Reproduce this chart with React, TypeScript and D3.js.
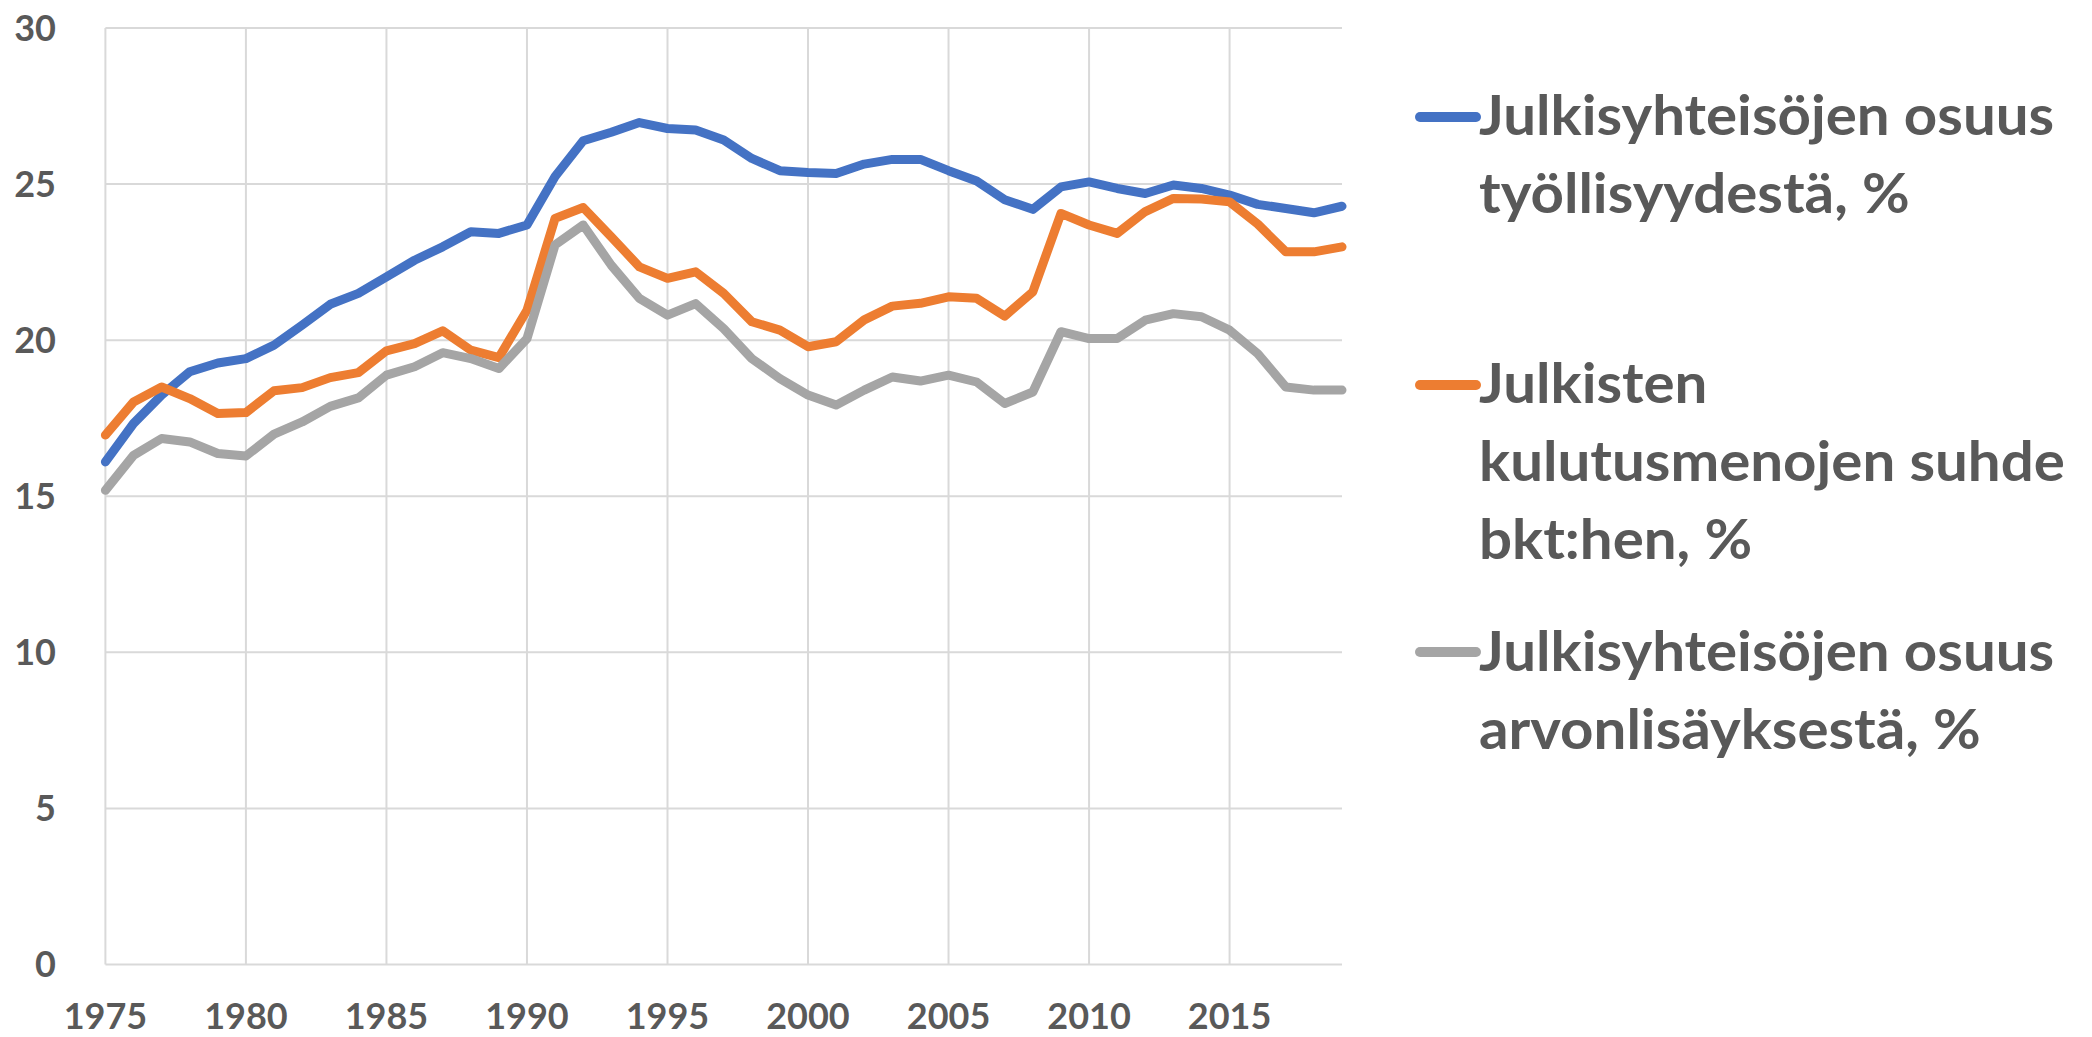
import React from "react";
import * as d3 from "d3";

const years: number[] = d3.range(1975, 2020);

const employmentShare: number[] = [
  16.1, 17.33, 18.24, 18.99, 19.27, 19.41, 19.84, 20.48, 21.15, 21.5,
  22.03, 22.56, 22.99, 23.47, 23.42, 23.69, 25.24, 26.39, 26.66, 26.97,
  26.78, 26.73, 26.41, 25.82, 25.43, 25.37, 25.34, 25.64, 25.79, 25.79,
  25.43, 25.1, 24.5, 24.19, 24.91, 25.07, 24.86, 24.7, 24.97, 24.86,
  24.65, 24.35, 24.22, 24.08, 24.29,
];

const consumptionToGdp: number[] = [
  16.96, 18.02, 18.5, 18.13, 17.65, 17.68, 18.38, 18.48, 18.8, 18.96,
  19.66, 19.89, 20.3, 19.68, 19.44, 20.96, 23.9, 24.25, 23.31, 22.35,
  21.98, 22.19, 21.5, 20.59, 20.32, 19.79, 19.95, 20.65, 21.09, 21.18,
  21.39, 21.34, 20.77, 21.55, 24.06, 23.69, 23.42, 24.12, 24.54, 24.52,
  24.43, 23.72, 22.83, 22.83, 22.99,
];

const valueAddedShare: number[] = [
  15.19, 16.31, 16.85, 16.74, 16.37, 16.29, 16.99, 17.38, 17.88, 18.15,
  18.88, 19.15, 19.6, 19.41, 19.09, 20.05, 23.05, 23.69, 22.4, 21.34,
  20.8, 21.17, 20.37, 19.41, 18.77, 18.24, 17.92, 18.4, 18.82, 18.69,
  18.88, 18.66, 17.97, 18.34, 20.27, 20.05, 20.05, 20.64, 20.85, 20.75,
  20.32, 19.57, 18.5, 18.4, 18.4,
];

const yTicks: number[] = [0, 5, 10, 15, 20, 25, 30];
const xTicks: number[] = [1975, 1980, 1985, 1990, 1995, 2000, 2005, 2010, 2015];

const seriesNames: string[][] = [
  ["Julkisyhteisöjen osuus", "työllisyydestä, %"],
  ["Julkisten", "kulutusmenojen suhde", "bkt:hen, %"],
  ["Julkisyhteisöjen osuus", "arvonlisäyksestä, %"],
];
const seriesColors: string[] = ["#4472C4", "#ED7D31", "#A5A5A5"];

const W = 2092;
const H = 1037;
const FONT = "Lato, 'Open Sans', sans-serif";
const TEXT = "#595959";
const GRID = "#D9D9D9";

export default function App() {
  const x = d3.scaleLinear().domain([1975, 2019]).range([105.4, 1342]);
  const y = d3.scaleLinear().domain([0, 30]).range([964.5, 28]);

  const allSeries = [employmentShare, consumptionToGdp, valueAddedShare];
  const line = d3
    .line<number>()
    .x((_, i) => x(years[i]))
    .y((d) => y(d));

  const legendLineY = [117, 385, 652];
  const legendFirstBaseline = [135, 403, 671];
  const lineGap = 78;

  return (
    <svg
      width={W}
      height={H}
      viewBox={`0 0 ${W} ${H}`}
      style={{ position: "absolute", left: 0, top: 0, display: "block", background: "#fff" }}
    >
      <rect x={0} y={0} width={W} height={H} fill="#fff" />
      {yTicks.map((t) => (
        <line
          key={"hy" + t}
          x1={x(1975)}
          x2={x(2019)}
          y1={y(t)}
          y2={y(t)}
          stroke={GRID}
          strokeWidth={2}
        />
      ))}
      {xTicks.map((t) => (
        <line
          key={"vx" + t}
          x1={x(t)}
          x2={x(t)}
          y1={y(30)}
          y2={y(0)}
          stroke={GRID}
          strokeWidth={2}
        />
      ))}
      {yTicks.map((t) => (
        <text
          key={"yl" + t}
          x={56}
          y={y(t)}
          dy="0.36em"
          textAnchor="end"
          fontFamily={FONT}
          fontWeight={700}
          fontSize={36}
          fill={TEXT}
        >
          {t}
        </text>
      ))}
      {xTicks.map((t) => (
        <text
          key={"xl" + t}
          x={x(t)}
          y={1029}
          textAnchor="middle"
          fontFamily={FONT}
          fontWeight={700}
          fontSize={36}
          fill={TEXT}
        >
          {t}
        </text>
      ))}
      {allSeries.map((s, i) => (
        <path
          key={"s" + i}
          d={line(s) || ""}
          fill="none"
          stroke={seriesColors[i]}
          strokeWidth={9}
          strokeLinejoin="round"
          strokeLinecap="round"
        />
      ))}
      {seriesNames.map((lines, i) => (
        <g key={"lg" + i}>
          <line
            x1={1420}
            x2={1476}
            y1={legendLineY[i]}
            y2={legendLineY[i]}
            stroke={seriesColors[i]}
            strokeWidth={10}
            strokeLinecap="round"
          />
          <g transform="translate(1479,0) scale(1.04,1)">
            {lines.map((ln, j) => (
              <text
                key={j}
                x={0}
                y={legendFirstBaseline[i] + j * lineGap}
                fontFamily={FONT}
                fontWeight={700}
                fontSize={56}
                fill={TEXT}
              >
                {ln}
              </text>
            ))}
          </g>
        </g>
      ))}
    </svg>
  );
}
